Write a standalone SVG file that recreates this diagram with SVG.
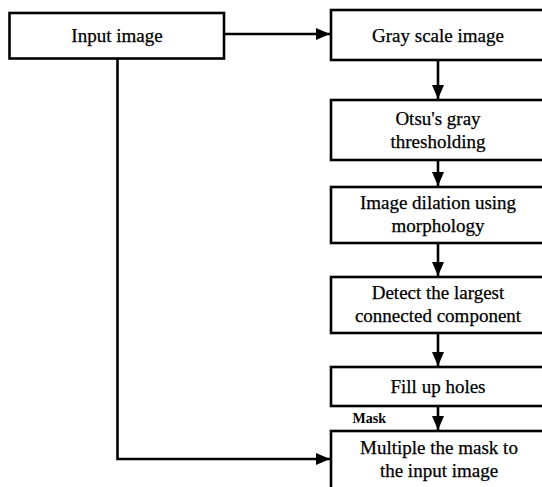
<svg xmlns="http://www.w3.org/2000/svg" width="542" height="487" viewBox="0 0 542 487">
<style>
.box{fill:#fff;stroke:#000;stroke-width:2.6}
.t{font-size:19px;fill:#000;text-anchor:middle;stroke:#000;stroke-width:0.25}
.lbl{font-size:14px;font-weight:bold;fill:#000}
.c{fill:none;stroke:#000;stroke-width:2.6}
</style>
<defs>
<marker id="ah" viewBox="0 0 14 12" refX="14" refY="6" markerWidth="14" markerHeight="12" markerUnits="userSpaceOnUse" orient="auto">
<path d="M0,0 L14,6 L0,12 Z" fill="#000"/>
</marker>
</defs>
<g id="connectors">
<path class="c" d="M224,34 L330,34" marker-end="url(#ah)"/>
<path class="c" d="M438,60 L438,99" marker-end="url(#ah)"/>
<path class="c" d="M438,160 L438,186" marker-end="url(#ah)"/>
<path class="c" d="M438,243 L438,276" marker-end="url(#ah)"/>
<path class="c" d="M438,333 L438,366" marker-end="url(#ah)"/>
<path class="c" d="M438,406 L438,430" marker-end="url(#ah)"/>
<path class="c" d="M117.5,58.5 L117.5,459 L330,459" marker-end="url(#ah)"/>
<text class="lbl" font-family="Liberation Serif, Times New Roman, serif" x="352.5" y="422.5">Mask</text>
</g>
<g font-family="Liberation Serif, Times New Roman, serif">
<g id="input">
<rect class="box" x="9.5" y="13" width="214.5" height="45.5"/>
<text class="t" x="117" y="42">Input image</text>
</g>
<g id="gray">
<rect class="box" x="331" y="10" width="215" height="50"/>
<text class="t" x="438" y="41.5">Gray scale image</text>
</g>
<g id="otsu">
<rect class="box" x="331" y="100" width="215" height="60"/>
<text class="t" x="438" y="124.5">Otsu's gray</text>
<text class="t" x="438" y="147.5">thresholding</text>
</g>
<g id="dilation">
<rect class="box" x="331" y="187" width="215" height="56"/>
<text class="t" x="438" y="209">Image dilation using</text>
<text class="t" x="438" y="232">morphology</text>
</g>
<g id="detect">
<rect class="box" x="331" y="277" width="215" height="56"/>
<text class="t" x="438" y="299">Detect the largest</text>
<text class="t" x="438" y="322">connected component</text>
</g>
<g id="fill">
<rect class="box" x="331" y="367" width="215" height="39"/>
<text class="t" x="438" y="393">Fill up holes</text>
</g>
<g id="multiply">
<rect class="box" x="331" y="431" width="215" height="70"/>
<text class="t" x="439" y="453.5">Multiple the mask to</text>
<text class="t" x="439" y="476.5">the input image</text>
</g>
</g>
</svg>
